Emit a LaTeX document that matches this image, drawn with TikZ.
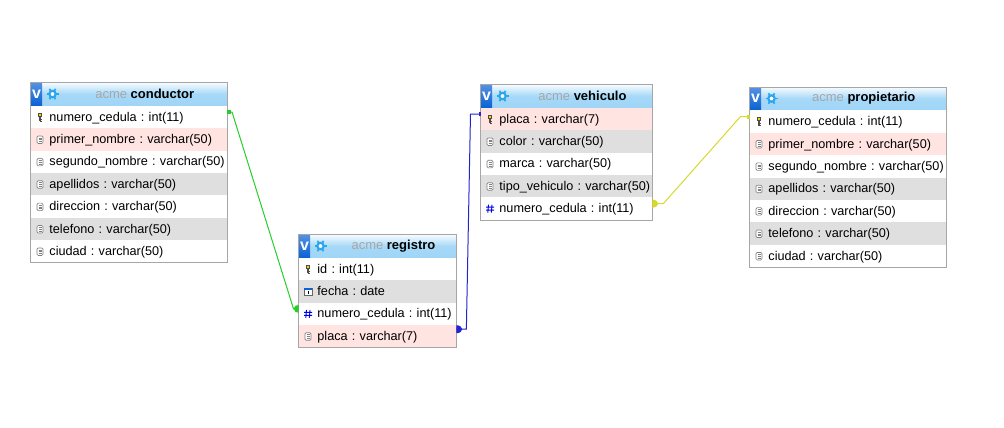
\documentclass[tikz,border=0pt]{standalone}
\usepackage{fontspec}
\setmainfont{Liberation Sans}
\usepackage{xcolor}
\usetikzlibrary{calc,positioning}
\frenchspacing

\definecolor{rowpink}{HTML}{FFE4E2}
\definecolor{rowgray}{HTML}{DFDFDF}
\definecolor{headblue}{HTML}{9FD5F7}
\definecolor{vblue}{HTML}{0A62D6}
\definecolor{gearblue}{HTML}{2AA6EE}
\definecolor{reljoingreen}{HTML}{2ACC2A}
\definecolor{reljoinblue}{HTML}{2424CC}
\definecolor{reljoinyellow}{HTML}{D8D82E}

\tikzset{
    tabhead/.style={anchor=north west, inner sep=0pt, minimum height=16.9pt, align=center,
        top color=headblue!10, bottom color=headblue, middle color=headblue!92, font=\fontsize{9.75}{10}\selectfont},
    vbox/.style={anchor=north west, inner sep=0pt, minimum width=8.6pt, minimum height=16.9pt,
        top color=vblue!70, bottom color=vblue, text=white, font=\fontsize{12}{12}\selectfont\bfseries},
    fieldrow/.style={anchor=north west, inner xsep=0pt, inner ysep=0pt, minimum height=16.8pt,
        text height=7.6pt, text depth=1.5pt, align=left, font=\fontsize{9.5}{10}\selectfont},
    tabframe/.style={draw=black!35, line width=0.7pt},
    reljoin/.style={line width=0.75pt},
    keyico/.pic={
        \draw[black!70, fill=yellow!70!orange, line width=0.35pt] (-1.5,-4) rectangle (1.5,-1);
        \draw[black!70, line width=0.8pt] (0,-1) -- (0,4);
        \draw[black!70, line width=0.5pt] (0,2) -- (1.5,2) (0,4) -- (1.5,4);
    },
    colico/.pic={
        \draw[black!50, fill=white, rounded corners=0.9pt, line width=0.5pt] (-3,-3.5) rectangle (3,4);
        \draw[black!50, line width=0.4pt] (-1.5,-1.5) -- (1.5,-1.5) (-1.5,0.3) -- (1.5,0.3) (-1.5,2) -- (1.5,2);
    },
    dateico/.pic={
        \draw[black!60, fill=white, line width=0.5pt] (-4,-3) rectangle (4,4);
        \fill[vblue] (-4,-3) rectangle (4,-1);
        \draw[black, line width=0.5pt] (0,-0.5) -- (0,3);
    },
    fkico/.pic={
        \draw[blue!90!black, line width=0.65pt] (-1.5,-4) -- (-2.2,4) (2,-4) -- (1.3,4) (-4,-1.5) -- (4,-1.5) (-4,1.5) -- (4,1.5);
    },
    gearico/.pic={
        \foreach \a in {0,60,...,300} {
            \draw[gearblue, line width=1.3pt] (0,0) -- (\a:6);
        }
        \draw[gearblue, fill=white, line width=1.6pt] (0,0) circle (3.2);
    }
}

\begin{document}
\begin{tikzpicture}[x=0.75pt, y=-0.75pt]
    \useasboundingbox (0,0) rectangle (1004,428);

    % Table headers
    \foreach \name/\title/\x/\y/\w in {cond/conductor/30.5/82.5/147pt,
        reg/registro/298.5/234.5/118pt, veh/vehiculo/480.5/84.5/128.5pt,
        prop/propietario/749.5/87/147pt} {
        \node[tabhead, minimum width=\w] (\name head) at (\x,\y)
            {\hspace*{24pt}{\color{black!35}acme} \textbf{\title}};
        \node[vbox] (\name v) at (\name head.north west) {v};
        \pic at ($(\name head.west)+(22,0)$) {gearico};
    }

    % conductor
    \foreach \i/\col/\ico/\txt in {1/white/keyico/numero\_cedula : int(11),
        2/rowpink/colico/primer\_nombre : varchar(50),
        3/white/colico/segundo\_nombre : varchar(50),
        4/rowgray/colico/apellidos : varchar(50),
        5/white/colico/direccion : varchar(50),
        6/rowgray/colico/telefono : varchar(50),
        7/white/colico/ciudad : varchar(50)} {
        \node[fieldrow, fill=\col, text width=147pt] (cond\i) at ($(condhead.south west)+(0,{22.4*(\i-1)})$)
            {\hspace*{14pt}\txt};
        \pic at ($(cond\i.west)+(9.5,0)$) {\ico};
    }
    \draw[tabframe] (condhead.north west) rectangle (cond7.south east);

    % registro
    \foreach \i/\col/\ico/\txt in {1/white/keyico/id : int(11),
        2/rowgray/dateico/fecha : date,
        3/white/fkico/numero\_cedula : int(11),
        4/rowpink/colico/placa : varchar(7)} {
        \node[fieldrow, fill=\col, text width=118pt] (reg\i) at ($(reghead.south west)+(0,{22.4*(\i-1)})$)
            {\hspace*{14pt}\txt};
        \pic at ($(reg\i.west)+(9.5,0)$) {\ico};
    }
    \draw[tabframe] (reghead.north west) rectangle (reg4.south east);

    % vehiculo
    \foreach \i/\col/\ico/\txt in {1/rowpink/keyico/placa : varchar(7),
        2/rowgray/colico/color : varchar(50),
        3/white/colico/marca : varchar(50),
        4/rowgray/colico/tipo\_vehiculo : varchar(50),
        5/white/fkico/numero\_cedula : int(11)} {
        \node[fieldrow, fill=\col, text width=128.5pt] (veh\i) at ($(vehhead.south west)+(0,{22.4*(\i-1)})$)
            {\hspace*{14pt}\txt};
        \pic at ($(veh\i.west)+(9.5,0)$) {\ico};
    }
    \draw[tabframe] (vehhead.north west) rectangle (veh5.south east);

    % propietario
    \foreach \i/\col/\ico/\txt in {1/white/keyico/numero\_cedula : int(11),
        2/rowpink/colico/primer\_nombre : varchar(50),
        3/white/colico/segundo\_nombre : varchar(50),
        4/rowgray/colico/apellidos : varchar(50),
        5/white/colico/direccion : varchar(50),
        6/rowgray/colico/telefono : varchar(50),
        7/white/colico/ciudad : varchar(50)} {
        \node[fieldrow, fill=\col, text width=147pt] (prop\i) at ($(prophead.south west)+(0,{22.4*(\i-1)})$)
            {\hspace*{14pt}\txt};
        \pic at ($(prop\i.west)+(9.5,0)$) {\ico};
    }
    \draw[tabframe] (prophead.north west) rectangle (prop7.south east);

    % Relations
    \draw[reljoin, reljoingreen] ($(cond1.east)+(0,-5)$) -- ++(5,0) -- ($(reg3.west)+(-5,-5)$) -- ($(reg3.west)+(0,-5)$);
    \fill[reljoingreen] ($(cond1.east)+(0,-7)$) rectangle ($(cond1.east)+(4,-3)$);
    \fill[reljoingreen] ($(reg3.west)+(0,-9)$) arc[start angle=90, end angle=270, x radius=3.5pt, y radius=3pt];

    \draw[reljoin, reljoinblue] ($(reg4.east)+(0,-7)$) -- ++(10,0) -- ($(veh1.west)+(-10,-5)$) -- ($(veh1.west)+(0,-5)$);
    \fill[reljoinblue] ($(reg4.east)+(0,-11)$) arc[start angle=90, end angle=-90, x radius=4.4pt, y radius=3pt];
    \fill[reljoinblue] ($(veh1.west)+(-2,-7)$) rectangle ($(veh1.west)+(0,-3)$);

    \draw[reljoin, reljoinyellow] ($(veh5.east)+(0,-5)$) -- ++(11,0) -- ($(prop1.west)+(-9,-5)$) -- ($(prop1.west)+(0,-5)$);
    \fill[reljoinyellow] ($(veh5.east)+(0,-9)$) arc[start angle=90, end angle=-90, x radius=4.4pt, y radius=3pt];
    \fill[reljoinyellow] ($(prop1.west)+(-3,-7)$) rectangle ($(prop1.west)+(0,-3)$);
\end{tikzpicture}
\end{document}
